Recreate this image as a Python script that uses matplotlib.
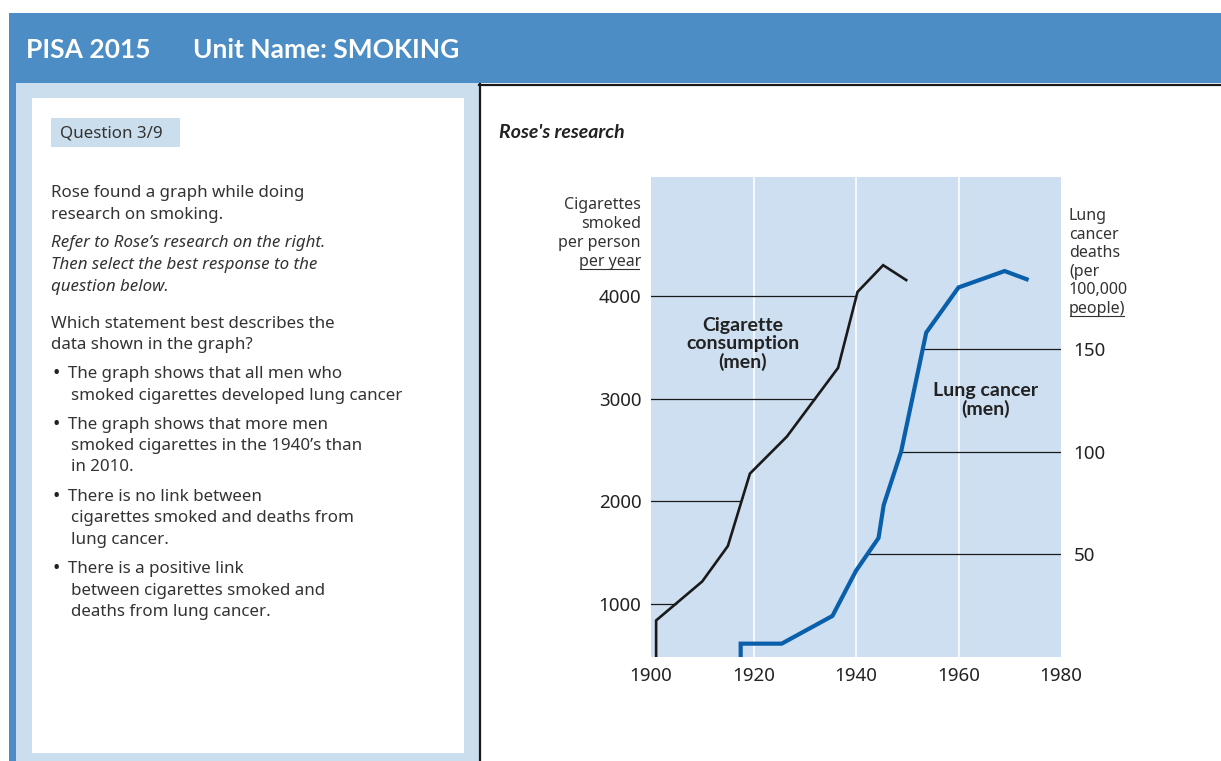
import numpy as np
import matplotlib.pyplot as plt
from matplotlib.patches import Rectangle

# values
cig_years = [1901, 1901, 1910, 1915, 1919.3, 1926.5, 1936.5, 1940.3, 1945.3, 1949.8]
cig_values = [480, 840, 1220, 1565, 2270, 2630, 3300, 4040, 4300, 4155]
lung_years = [1917.5, 1917.5, 1925.5, 1935.4, 1940, 1944.4, 1945.4, 1948.8, 1953.7, 1960, 1969, 1973.3]
lung_values = [0, 6.5, 6.5, 20, 42, 58, 74, 100, 158, 180, 188, 184]

year_ticks = [1900, 1920, 1940, 1960, 1980]
cig_ticks = [1000, 2000, 3000, 4000]
lung_ticks = [50, 100, 150]

left_label = ["Cigarettes", "smoked", "per person", "per year"]
right_label = ["Lung", "cancer", "deaths", "(per", "100,000", "people)"]

question_lines = [
    ("Rose found a graph while doing", "normal", 51, 193),
    ("research on smoking.", "normal", 51, 215),
    ("Refer to Rose\u2019s research on the right.", "italic", 51, 243),
    ("Then select the best response to the", "italic", 51, 265),
    ("question below.", "italic", 51, 287),
    ("Which statement best describes the", "normal", 51, 324),
    ("data shown in the graph?", "normal", 51, 345),
    ("The graph shows that all men who", "normal", 68, 374),
    ("smoked cigarettes developed lung cancer", "normal", 71, 396),
    ("The graph shows that more men", "normal", 68, 425),
    ("smoked cigarettes in the 1940\u2019s than", "normal", 71, 446),
    ("in 2010.", "normal", 71, 467),
    ("There is no link between", "normal", 68, 497),
    ("cigarettes smoked and deaths from", "normal", 71, 518),
    ("lung cancer.", "normal", 71, 540),
    ("There is a positive link", "normal", 68, 569),
    ("between cigarettes smoked and", "normal", 71, 591),
    ("deaths from lung cancer.", "normal", 71, 612),
]
bullet_rows = [374, 425, 497, 569]

W, H = 1221, 761
HEADER = "#4b8dc4"
PANEL = "#cbdeee"
CHART_BG = "#cddff0"
TXT = "#333333"
SANS = "Noto Sans"
BOLD = "Lato"

fig = plt.figure(figsize=(W / 100, H / 100), dpi=100)
fig.patch.set_facecolor("white")

# page background drawn in pixel coords
page = fig.add_axes([0, 0, 1, 1])
page.set_xlim(0, W)
page.set_ylim(H, 0)
page.axis("off")

page.add_patch(Rectangle((9, 13), W - 9, 70, color=HEADER, lw=0))
page.add_patch(Rectangle((9, 83), 7, H - 83, color=HEADER, lw=0))
page.add_patch(Rectangle((16, 83), 464, H - 83, color=PANEL, lw=0))
page.add_patch(Rectangle((32, 98), 432, 655, color="white", lw=0))
page.add_patch(Rectangle((51, 118), 129, 29, color=PANEL, lw=0))
page.plot([480, 480], [84, H], color="#1a1a1a", lw=1.6)
page.plot([479, W], [84.5, 84.5], color="#1a1a1a", lw=1.6)

page.text(26, 50, "PISA 2015", color="white", fontsize=19, fontweight="bold",
          family=BOLD, va="center", ha="left")
page.text(193, 50, "Unit Name: SMOKING", color="white", fontsize=19, fontweight="bold",
          family=BOLD, va="center", ha="left")

page.text(60, 133, "Question 3/9", color=TXT, fontsize=12.2, family=SANS, va="center")
for txt, style, x, y in question_lines:
    page.text(x, y, txt, color=TXT, fontsize=12.2, family=SANS, style=style, va="center")
for y in bullet_rows:
    page.text(53, y, "\u2022", color="#222222", fontsize=14, family=SANS, va="center")

page.text(499, 133, "Rose's research", color="#222222", fontsize=14, family=BOLD,
          style="italic", fontweight="bold", va="center")

# axis titles, one line at a time
underline = []
for i, line in enumerate(left_label):
    t = page.text(641, 205 + i * 19, line, color=TXT, fontsize=11.5, family=SANS,
                  ha="right", va="center")
    if i == len(left_label) - 1:
        underline.append(t)
for i, line in enumerate(right_label):
    t = page.text(1069, 216 + i * 18.6, line, color=TXT, fontsize=11.5, family=SANS,
                  ha="left", va="center")
    if i == len(right_label) - 1:
        underline.append(t)

# chart
ax = fig.add_axes([651 / W, 1 - 657 / H, 410 / W, 480 / H])
ax.set_facecolor(CHART_BG)
ax.set_xlim(1900, 1980)
ax.set_ylim(484, 5159)
for s in ax.spines.values():
    s.set_visible(False)
for yr in year_ticks[1:-1]:
    ax.axvline(yr, color="white", lw=1.2, zorder=1)

ax.set_xticks(year_ticks)
ax.set_xticklabels([str(y) for y in year_ticks], fontsize=13.5, family=SANS, color="#222222")
ax.set_yticks(cig_ticks)
ax.set_yticklabels([str(v) for v in cig_ticks], fontsize=13.5, family=SANS, color="#222222")
ax.tick_params(length=0, pad=7)

# reference lines run from the axis to the curve
rise = slice(1, 9)
for lvl in cig_ticks:
    cross = np.interp(lvl, cig_values[rise], cig_years[rise])
    ax.plot([1900, cross], [lvl, lvl], color="#1a1a1a", lw=0.9, zorder=2)
ax.plot(cig_years, cig_values, color="#1a1a1a", lw=1.9, zorder=3, solid_joinstyle="miter")

ax2 = ax.twinx()
ax2.set_ylim(0, 233.8)
for s in ax2.spines.values():
    s.set_visible(False)
ax2.set_yticks(lung_ticks)
ax2.set_yticklabels([str(v) for v in lung_ticks], fontsize=13.5, family=SANS, color="#222222")
ax2.tick_params(length=0, pad=9)

rise2 = slice(2, 11)
for lvl in lung_ticks:
    cross = np.interp(lvl, lung_values[rise2], lung_years[rise2])
    ax2.plot([cross, 1980], [lvl, lvl], color="#1a1a1a", lw=0.9, zorder=2)
ax2.plot(lung_years, lung_values, color="#0a5fab", lw=3, zorder=3, solid_joinstyle="miter")

ax2.text((743 - 651) / 410, (657 - 344) / 480, "Cigarette\nconsumption\n(men)",
         transform=ax2.transAxes, ha="center", va="center", fontsize=14,
         fontweight="bold", family=BOLD, color="#222222", linespacing=1.08)
ax2.text((986 - 651) / 410, (657 - 400) / 480, "Lung cancer\n(men)",
         transform=ax2.transAxes, ha="center", va="center", fontsize=14,
         fontweight="bold", family=BOLD, color="#222222", linespacing=1.08)

# underline the last line of each axis title
fig.canvas.draw()
inv = page.transData.inverted()
for t in underline:
    bb = t.get_window_extent()
    (x0, y0), (x1, _) = inv.transform([[bb.x0 + 1, bb.y0], [bb.x1 - 2, bb.y1]])
    page.plot([x0, x1], [y0 - 1, y0 - 1], color=TXT, lw=0.8)

fig.savefig("out.png", dpi=100)
